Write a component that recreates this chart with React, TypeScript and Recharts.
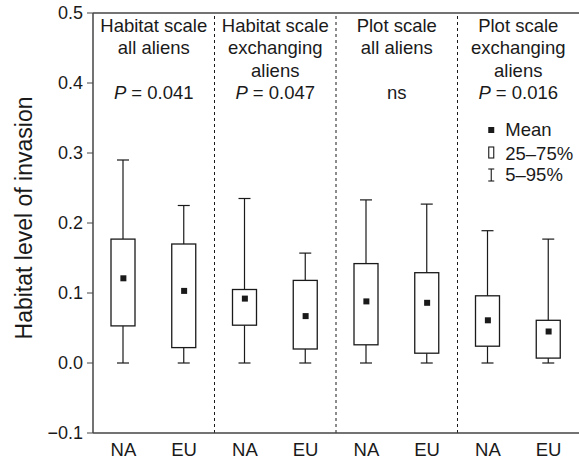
import { ComposedChart, Bar, Scatter, XAxis, YAxis, ReferenceLine } from 'recharts';

const categories = ['NA', 'EU', 'NA', 'EU', 'NA', 'EU', 'NA', 'EU'];
const whiskerLow = [0, 0, 0, 0, 0, 0, 0, 0];
const q1 = [0.053, 0.022, 0.054, 0.02, 0.026, 0.014, 0.024, 0.007];
const q3 = [0.177, 0.17, 0.105, 0.118, 0.142, 0.129, 0.096, 0.061];
const whiskerHigh = [0.29, 0.225, 0.235, 0.157, 0.233, 0.227, 0.189, 0.177];
const means = [0.121, 0.103, 0.092, 0.067, 0.088, 0.086, 0.061, 0.045];

const yTicks = [-0.1, 0, 0.1, 0.2, 0.3, 0.4, 0.5];
const panelCenters = [1, 3, 5, 7];
const panelDividers = [2, 4, 6];
const panelTitles = [
    ['Habitat scale', 'all aliens'],
    ['Habitat scale', 'exchanging', 'aliens'],
    ['Plot scale', 'all aliens'],
    ['Plot scale', 'exchanging', 'aliens'],
];
const panelStats = ['0.041', '0.047', 'ns', '0.016'];
const legendItems = ['Mean', '25\u201375%', '5\u201395%'];

const data = categories.map((c, i) => ({
    pos: i + 0.5,
    name: c,
    base: whiskerLow[i],
    lowW: q1[i] - whiskerLow[i],
    box: q3[i] - q1[i],
    upW: whiskerHigh[i] - q3[i],
    mean: means[i],
}));

const FONT = '"Liberation Sans", Arial, Helvetica, sans-serif';
const INK = '#1a1a1a';
const AXIS = '#444';

// whisker pieces, box and mean marker
const LowWhisker = (p: any) => {
    const { x, y, width, height } = p;
    const cx = x + width / 2;
    const top = Math.min(y, y + height);
    const bot = Math.max(y, y + height);
    return (
        <g stroke={INK} strokeWidth={1.2}>
            <line x1={cx} x2={cx} y1={top} y2={bot} />
            <line x1={cx - 6} x2={cx + 6} y1={bot} y2={bot} />
        </g>
    );
};

const UpWhisker = (p: any) => {
    const { x, y, width, height } = p;
    const cx = x + width / 2;
    const top = Math.min(y, y + height);
    const bot = Math.max(y, y + height);
    return (
        <g stroke={INK} strokeWidth={1.2}>
            <line x1={cx} x2={cx} y1={top} y2={bot} />
            <line x1={cx - 6} x2={cx + 6} y1={top} y2={top} />
        </g>
    );
};

const BoxShape = (p: any) => {
    const { x, y, width, height } = p;
    const top = Math.min(y, y + height);
    return <rect x={x} y={top} width={width} height={Math.abs(height)} fill="#fff" stroke={INK} strokeWidth={1.3} />;
};

const MeanShape = (p: any) => <rect x={p.cx - 3} y={p.cy - 3} width={6} height={6} fill={INK} />;

const PanelText = ({ viewBox, idx }: any) => {
    const cx = viewBox.x;
    const top = viewBox.y;
    const stat = panelStats[idx];
    return (
        <g fontFamily={FONT} fontSize={18.5} fill={INK} textAnchor="middle">
            {panelTitles[idx].map((t, k) => (
                <text key={k} x={cx} y={top + 18.5 + k * 22.5}>{t}</text>
            ))}
            <text x={cx} y={top + 85.5}>
                {stat === 'ns' ? 'ns' : (
                    <>
                        <tspan fontStyle="italic">P</tspan>
                        <tspan>{' = ' + stat}</tspan>
                    </>
                )}
            </text>
            {idx === 3 && (
                <g textAnchor="start">
                    <rect x={cx - 30} y={top + 114} width={6} height={6} fill={INK} />
                    <text x={cx - 13} y={top + 123}>{legendItems[0]}</text>
                    <rect x={cx - 29.5} y={top + 134} width={5} height={11} fill="none" stroke={INK} strokeWidth={1.1} />
                    <text x={cx - 13} y={top + 146.5}>{legendItems[1]}</text>
                    <g stroke={INK} strokeWidth={1.1}>
                        <line x1={cx - 27} x2={cx - 27} y1={top + 156} y2={top + 168} />
                        <line x1={cx - 30} x2={cx - 24} y1={top + 156} y2={top + 156} />
                        <line x1={cx - 30} x2={cx - 24} y1={top + 168} y2={top + 168} />
                    </g>
                    <text x={cx - 13} y={top + 168}>{legendItems[2]}</text>
                </g>
            )}
        </g>
    );
};

const YLabel = ({ viewBox }: any) => {
    const cx = 32;
    const cy = viewBox.y + viewBox.height / 2 - 5;
    return (
        <text x={cx} y={cy} transform={`rotate(-90, ${cx}, ${cy})`} textAnchor="middle" fontFamily={FONT} fontSize={23} fill={INK}>
            Habitat level of invasion
        </text>
    );
};

const fmtY = (v: number) => (v < 0 ? '\u2212' + Math.abs(v).toFixed(1) : v.toFixed(1));

export default function App() {
    return (
        <div style={{ position: 'absolute', left: 0, top: 0, width: 579, height: 461, background: '#fff' }}>
            <ComposedChart width={579} height={461} data={data} margin={{ top: 13, right: 0, left: 0, bottom: 0 }}>
                <XAxis
                    dataKey="pos"
                    type="number"
                    domain={[0, 8]}
                    ticks={[0.5, 1.5, 2.5, 3.5, 4.5, 5.5, 6.5, 7.5]}
                    tickFormatter={(v: number) => categories[Math.floor(v)]}
                    tickLine={false}
                    axisLine={{ stroke: AXIS, strokeWidth: 1.3 }}
                    tick={{ fontSize: 18.5, fill: INK, fontFamily: FONT }}
                    tickMargin={4}
                    height={28}
                    interval={0}
                />
                <YAxis
                    type="number"
                    domain={[-0.1, 0.5]}
                    ticks={yTicks}
                    tickFormatter={fmtY}
                    width={93}
                    tickSize={6}
                    tickMargin={4}
                    axisLine={{ stroke: AXIS, strokeWidth: 1.5 }}
                    tickLine={{ stroke: AXIS }}
                    tick={{ fontSize: 18, fill: INK, fontFamily: FONT }}
                    interval={0}
                    label={{ content: (props: any) => <YLabel {...props} /> }}
                />
                <ReferenceLine y={0.5} stroke={AXIS} strokeWidth={1.3} />
                {panelDividers.map((d) => (
                    <ReferenceLine key={d} x={d} stroke={INK} strokeWidth={1} strokeDasharray="3 3" />
                ))}
                {panelCenters.map((c, i) => (
                    <ReferenceLine key={'p' + c} x={c} stroke="none" label={{ content: (props: any) => <PanelText {...props} idx={i} /> }} />
                ))}
                <Bar dataKey="base" stackId="b" barSize={24} fill="none" isAnimationActive={false} />
                <Bar dataKey="lowW" stackId="b" barSize={24} shape={LowWhisker} isAnimationActive={false} />
                <Bar dataKey="box" stackId="b" barSize={24} shape={BoxShape} isAnimationActive={false} />
                <Bar dataKey="upW" stackId="b" barSize={24} shape={UpWhisker} isAnimationActive={false} />
                <Scatter dataKey="mean" shape={MeanShape} isAnimationActive={false} />
            </ComposedChart>
        </div>
    );
}
